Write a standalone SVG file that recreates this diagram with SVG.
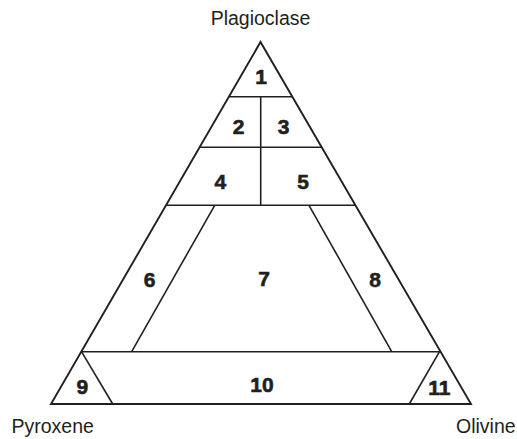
<svg xmlns="http://www.w3.org/2000/svg" width="517" height="439" viewBox="0 0 517 439">
<style>
.ln{fill:none;stroke:#231f20;stroke-width:1.6;stroke-linejoin:miter}
.outer{fill:none;stroke:#231f20;stroke-width:1.9;stroke-linejoin:miter}
.num{font-family:"Liberation Sans",Arial,sans-serif;font-weight:bold;font-size:21px;fill:#231f20;stroke:#231f20;stroke-width:0.6;text-anchor:middle}
.lbl{font-family:"Liberation Sans",Arial,sans-serif;font-size:19.5px;fill:#231f20}
</style>
<rect width="517" height="439" fill="#fff"/>
<g id="lines">
<polygon class="outer" points="260.5,42 51,404 471,404"/>
<line class="ln" x1="229" y1="96.7" x2="292.2" y2="96.7"/>
<line class="ln" x1="260.7" y1="96.7" x2="260.7" y2="205.3"/>
<line class="ln" x1="199.4" y1="147.3" x2="321.6" y2="147.3"/>
<line class="ln" x1="165.8" y1="205.3" x2="355.2" y2="205.3"/>
<line class="ln" x1="214.7" y1="205.3" x2="131.7" y2="351.7"/>
<line class="ln" x1="309" y1="205.3" x2="391.7" y2="351.7"/>
<line class="ln" x1="80.8" y1="351.7" x2="440.2" y2="351.7"/>
<line class="ln" x1="81.5" y1="351.7" x2="112.7" y2="404"/>
<line class="ln" x1="439.5" y1="351.7" x2="409.3" y2="404"/>
</g>
<g id="r1"><text class="num" x="261" y="84">1</text></g>
<g id="r2"><text class="num" x="238.5" y="133.5">2</text></g>
<g id="r3"><text class="num" x="283.7" y="133.5">3</text></g>
<g id="r4"><text class="num" x="220.3" y="189">4</text></g>
<g id="r5"><text class="num" x="303" y="189">5</text></g>
<g id="r6"><text class="num" x="149.7" y="286.5">6</text></g>
<g id="r7"><text class="num" x="264" y="286">7</text></g>
<g id="r8"><text class="num" x="375" y="286.5">8</text></g>
<g id="r9"><text class="num" x="82.3" y="394">9</text></g>
<g id="r10"><text class="num" x="262" y="392.3">10</text></g>
<g id="r11"><text class="num" x="439.3" y="394.5">11</text></g>
<g id="plagioclase"><text class="lbl" x="260.5" y="25" text-anchor="middle">Plagioclase</text></g>
<g id="pyroxene"><text class="lbl" x="11.5" y="433">Pyroxene</text></g>
<g id="olivine"><text class="lbl" x="456" y="433">Olivine</text></g>
</svg>
